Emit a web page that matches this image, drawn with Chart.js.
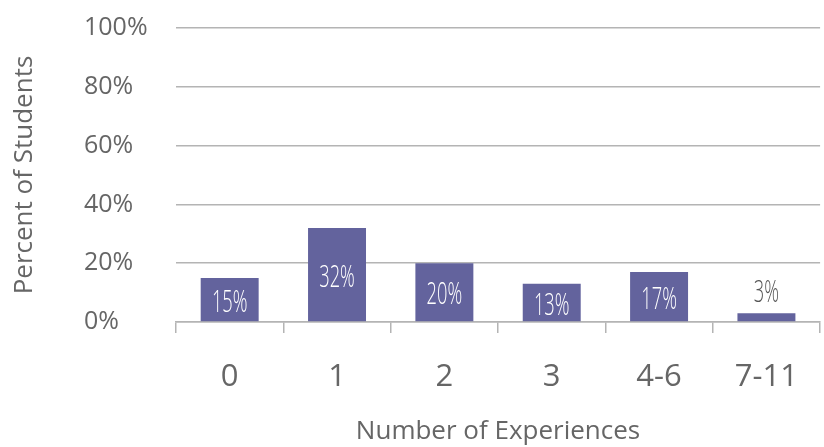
<!DOCTYPE html>
<html>
<head>
<meta charset="utf-8">
<script src="https://cdn.jsdelivr.net/npm/chart.js@4"></script>
<style>
  html, body { margin: 0; padding: 0; background: #fff; }
  #wrap { width: 824px; height: 447px; }
</style>
</head>
<body>
<div id="wrap"><canvas id="expChart"></canvas></div>
<script>
// Werte
const categories = ['0', '1', '2', '3', '4-6', '7-11'];
const percentStudents = [15, 32, 20, 13, 17, 3];
const yTicks = [0, 20, 40, 60, 80, 100];

const barColor = '#63639d';
const gridColor = '#b4b4b4';
const textColor = '#666666';

// Beschriftung der Balken (kein datalabels-Plugin vorhanden)
const barLabels = {
  id: 'barLabels',
  afterDatasetsDraw(chart) {
    const ctx = chart.ctx;
    const meta = chart.getDatasetMeta(0);
    ctx.save();
    ctx.font = '300 32px "Open Sans"';
    ctx.textAlign = 'center';
    ctx.textBaseline = 'middle';
    meta.data.forEach((bar, i) => {
      const val = percentStudents[i];
      const h = bar.base - bar.y;
      let y = bar.y + h / 2 + 3;
      let color = '#ffffff';
      if (h < 30) {
        y = bar.y - 20;
        color = '#555555';
      }
      ctx.save();
      ctx.translate(bar.x, y);
      ctx.scale(0.57, 1);
      ctx.fillStyle = color;
      ctx.fillText(val + '%', 0, 0);
      ctx.restore();
    });
    ctx.restore();
  }
};

const ctx = document.getElementById('expChart').getContext('2d');
new Chart(ctx, {
  type: 'bar',
  data: {
    labels: categories,
    datasets: [
      {
        label: 'Percent of Students',
        data: percentStudents,
        backgroundColor: barColor,
        borderWidth: 0,
        barPercentage: 0.54,
        categoryPercentage: 1.0,
      },
    ],
  },
  options: {
    responsive: true,
    maintainAspectRatio: false,
    animation: false,
    layout: { padding: { top: 28, right: 0, bottom: 0, left: 0 } },
    plugins: {
      legend: { display: false },
      tooltip: { enabled: false },
    },
    scales: {
      x: {
        afterFit(scale) {
          scale.height = 125;
        },
        grid: {
          display: true,
          drawOnChartArea: false,
          drawTicks: true,
          tickLength: 11,
          color: gridColor,
          lineWidth: 1.5,
        },
        border: { display: true, color: gridColor, width: 1.5 },
        ticks: {
          color: textColor,
          padding: 26,
          font: { family: '"Open Sans"', size: 31 },
        },
        title: {
          display: true,
          text: 'Number of Experiences',
          color: textColor,
          padding: { top: 0, bottom: 0 },
          font: { family: '"Open Sans"', size: 26 },
        },
      },
      y: {
        min: 0,
        max: 100,
        weight: 0,
        afterBuildTicks(scale) {
          scale.ticks = yTicks.map(v => ({ value: v }));
        },
        afterFit(scale) {
          scale.width = 92;
        },
        grid: {
          color: gridColor,
          lineWidth: 1.5,
          drawTicks: false,
        },
        border: { display: false },
        ticks: {
          color: textColor,
          crossAlign: 'far',
          padding: 0,
          font: { family: '"Open Sans"', size: 25 },
          callback: v => v + '%',
        },
      },
      yTitle: {
        type: 'linear',
        position: 'left',
        weight: 1,
        afterFit(scale) {
          scale.width = 84;
        },
        grid: { display: false },
        border: { display: false },
        ticks: { display: false },
        title: {
          display: true,
          text: 'Percent of Students',
          color: textColor,
          padding: { top: 9, bottom: 0 },
          font: { family: '"Open Sans"', size: 26 },
        },
      },
    },
  },
  plugins: [barLabels],
});
</script>
</body>
</html>
